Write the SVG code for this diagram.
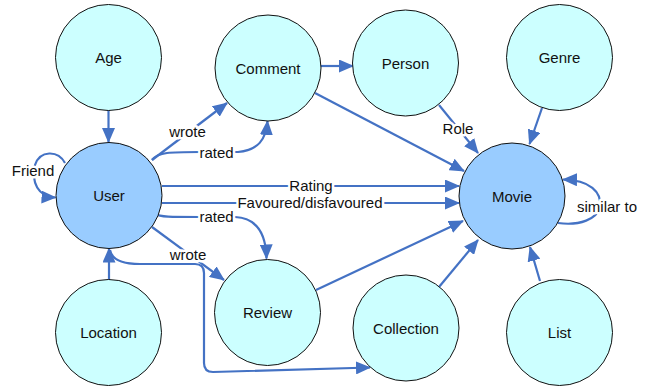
<svg xmlns="http://www.w3.org/2000/svg" width="649" height="388" viewBox="0 0 649 388">
<style>
.n{fill:#ccffff;stroke:#111;stroke-width:1}
.b{fill:#99ccff;stroke:#111;stroke-width:1}
.t{font-family:"Liberation Sans",Arial,sans-serif;font-size:15px;fill:#111;text-anchor:middle}
.e{fill:none;stroke:#4472c4;stroke-width:2.2;marker-end:url(#ah)}
.l{font-family:"Liberation Sans",Arial,sans-serif;font-size:15px;fill:#111;text-anchor:middle;stroke:#fff;stroke-width:5;stroke-linejoin:round;paint-order:stroke}
</style>
<defs>
<marker id="ah" markerUnits="userSpaceOnUse" markerWidth="15" markerHeight="13" refX="14" refY="6.5" orient="auto">
<path d="M0,0 L15,6.5 L0,13 z" fill="#4472c4"/>
</marker>
</defs>
<g id="connectors">
<path class="e" d="M108.5,110 L108.5,142"/>
<path class="e" d="M152,160 L227,103"/>
<path class="e" d="M152,160 C158,152 170,152 200,152 L238,152 C258,150 266,140 267.5,121"/>
<path class="e" d="M321,66 L353,66"/>
<path class="e" d="M315,93 L464,171"/>
<path class="e" d="M439,105 L478,153"/>
<path class="e" d="M542,108 L529.5,144"/>
<path class="e" d="M162,186 L459,186"/>
<path class="e" d="M162,203 L459,203"/>
<path class="e" d="M155,214 C160,217 170,217 200,217 L235,217 C258,218 266,235 266.5,258.5"/>
<path class="e" d="M152,227 L224,280"/>
<path class="e" d="M109,280 L109,248.5"/>
<path class="e" d="M110,250 C112,261 125,264 140,264 L195,264 Q204,264 204,273 L204,363 Q204,372 213,372 L370,367.5"/>
<path class="e" d="M316,290 L463,221"/>
<path class="e" d="M439,287 L478,240"/>
<path class="e" d="M540,281 L530,247"/>
<path class="e" d="M558,223 C580,226 597,219 600,207 C602,192 590,180 563,179.5"/>
<path class="e" d="M65,163 C58,150 40,150 35,165 C31,182 38,197 55.5,197.5"/>
<text class="l" x="187.5" y="137">wrote</text>
<text class="l" x="216.5" y="158">rated</text>
<text class="l" x="311" y="191">Rating</text>
<text class="l" x="310" y="208">Favoured/disfavoured</text>
<text class="l" x="216.5" y="222">rated</text>
<text class="l" x="188" y="260">wrote</text>
<text class="l" x="458" y="134">Role</text>
<text class="l" x="607" y="212">similar to</text>
<text class="l" x="33" y="176">Friend</text>
</g>
<g id="age"><circle class="n" cx="108.5" cy="57.5" r="53"/><text class="t" x="108.5" y="63">Age</text></g>
<g id="comment"><circle class="n" cx="268" cy="68" r="53"/><text class="t" x="268" y="73.5">Comment</text></g>
<g id="person"><circle class="n" cx="405.5" cy="63" r="53"/><text class="t" x="405.5" y="68.5">Person</text></g>
<g id="genre"><circle class="n" cx="559.5" cy="57.5" r="53"/><text class="t" x="559.5" y="63">Genre</text></g>
<g id="user"><circle class="b" cx="109" cy="195.5" r="53"/><text class="t" x="109" y="201">User</text></g>
<g id="movie"><circle class="b" cx="512" cy="196" r="53"/><text class="t" x="512" y="201.5">Movie</text></g>
<g id="review"><circle class="n" cx="267.5" cy="312.5" r="53"/><text class="t" x="267.5" y="318">Review</text></g>
<g id="location"><circle class="n" cx="108.5" cy="332.5" r="53"/><text class="t" x="108.5" y="338">Location</text></g>
<g id="collection"><circle class="n" cx="406" cy="328" r="53"/><text class="t" x="406" y="333.5">Collection</text></g>
<g id="list"><circle class="n" cx="559.5" cy="332.5" r="53"/><text class="t" x="559.5" y="338">List</text></g>
</svg>
